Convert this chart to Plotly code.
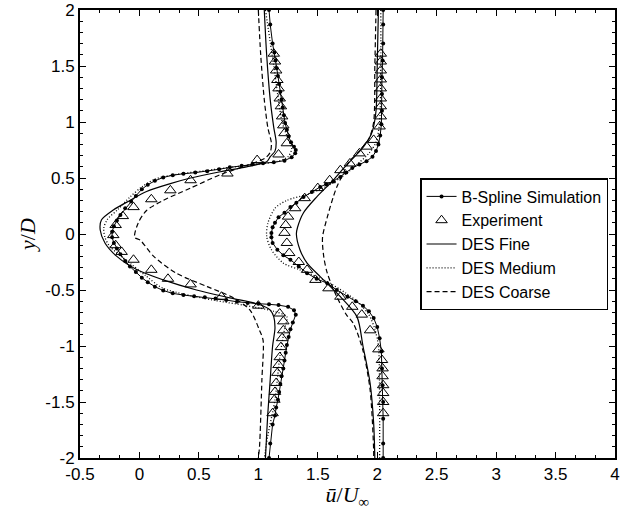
import plotly.graph_objects as go

# ---------------- data ----------------
# B-Spline Simulation, station 1
bs_x1 = [1.09, 1.10, 1.12, 1.135, 1.145, 1.155, 1.165, 1.175, 1.185, 1.195, 1.205, 1.215, 1.225, 1.24, 1.255,
         1.275, 1.30, 1.315, 1.31, 1.28, 1.22, 1.13, 1.04, 0.95, 0.86, 0.76, 0.67, 0.57, 0.47, 0.37, 0.28,
         0.20, 0.13, 0.07, 0.02, -0.03, -0.07, -0.12, -0.16, -0.19, -0.215, -0.23, -0.23, -0.215, -0.19,
         -0.16, -0.12, -0.08, -0.03, 0.02, 0.07, 0.13, 0.20, 0.28, 0.37, 0.46, 0.55, 0.64, 0.73, 0.82, 0.91,
         1.00, 1.09, 1.17, 1.25, 1.30, 1.315, 1.29, 1.27, 1.255, 1.24, 1.23, 1.22, 1.21, 1.195, 1.185, 1.175,
         1.165, 1.15, 1.14, 1.12, 1.10, 1.09]
bs_y1 = [2.0, 1.87, 1.70, 1.62, 1.55, 1.48, 1.41, 1.34, 1.27, 1.20, 1.13, 1.06, 0.99, 0.93, 0.87,
         0.82, 0.78, 0.75, 0.72, 0.685, 0.655, 0.64, 0.632, 0.622, 0.61, 0.595, 0.578, 0.56, 0.548, 0.538, 0.525,
         0.505, 0.475, 0.44, 0.40, 0.34, 0.29, 0.23, 0.17, 0.12, 0.07, 0.02, -0.03, -0.08, -0.13,
         -0.18, -0.24, -0.29, -0.34, -0.39, -0.43, -0.47, -0.505, -0.53, -0.545, -0.555, -0.565, -0.575, -0.59, -0.605, -0.615,
         -0.622, -0.628, -0.635, -0.65, -0.68, -0.72, -0.79, -0.85, -0.92, -0.99, -1.06, -1.13, -1.20, -1.27, -1.34, -1.41,
         -1.48, -1.55, -1.62, -1.70, -1.87, -2.0]
# B-Spline Simulation, station 2
bs_x2 = [2.05, 2.05, 2.05, 2.045, 2.04, 2.04, 2.04, 2.035, 2.025, 2.01, 1.99, 1.96, 1.91, 1.85, 1.79, 1.74,
         1.69, 1.63, 1.57, 1.52, 1.45, 1.38, 1.32, 1.27, 1.22, 1.17, 1.14, 1.12, 1.11, 1.11, 1.12, 1.16, 1.21,
         1.27, 1.34, 1.41, 1.49, 1.58, 1.66, 1.75, 1.82, 1.88, 1.93, 1.97, 2.00, 2.02, 2.035, 2.04, 2.045,
         2.05, 2.05, 2.05, 2.05]
bs_y2 = [2.0, 1.87, 1.70, 1.55, 1.40, 1.25, 1.10, 0.98, 0.88, 0.80, 0.74, 0.69, 0.65, 0.62, 0.59, 0.55,
         0.51, 0.47, 0.445, 0.42, 0.375, 0.33, 0.28, 0.24, 0.19, 0.15, 0.10, 0.06, 0.01, -0.03, -0.08, -0.14, -0.19,
         -0.23, -0.29, -0.35, -0.40, -0.44, -0.50, -0.56, -0.60, -0.64, -0.69, -0.75, -0.83, -0.93, -1.05, -1.20, -1.35,
         -1.50, -1.65, -1.87, -2.0]

# Experiment, station 1
exp_x1 = [1.13, 1.14, 1.15, 1.16, 1.17, 1.18, 1.19, 1.20, 1.21, 1.22, 1.24, 1.17, 0.99, 0.74, 0.43, 0.26,
          0.10, -0.05, -0.14, -0.20, -0.22, -0.20, -0.15, -0.05, 0.10, 0.24, 0.43, 0.69, 1.00, 1.18, 1.21,
          1.21, 1.20, 1.19, 1.18, 1.17, 1.16, 1.15, 1.14, 1.135, 1.12]
exp_y1 = [1.61, 1.54, 1.46, 1.375, 1.30, 1.21, 1.14, 1.05, 0.97, 0.90, 0.81, 0.71, 0.66, 0.54, 0.48, 0.39,
          0.31, 0.24, 0.16, 0.08, -0.01, -0.10, -0.16, -0.23, -0.32, -0.40, -0.45, -0.56, -0.64, -0.71, -0.78,
          -0.86, -0.93, -1.01, -1.10, -1.17, -1.24, -1.33, -1.41, -1.48, -1.60]
# Experiment, station 2
exp_x2 = [2.03, 2.03, 2.03, 2.03, 2.03, 2.03, 2.03, 2.03, 2.02, 1.97, 1.91, 1.85, 1.77, 1.69, 1.60, 1.50,
          1.39, 1.31, 1.25, 1.23, 1.22, 1.24, 1.26, 1.34, 1.41, 1.48, 1.59, 1.69, 1.79, 1.87, 1.94, 2.01,
          2.04, 2.045, 2.045, 2.05, 2.05, 2.05, 2.05]
exp_y2 = [1.61, 1.54, 1.46, 1.38, 1.30, 1.21, 1.14, 1.05, 0.96, 0.84, 0.78, 0.72, 0.63, 0.57, 0.48, 0.41,
          0.32, 0.23, 0.155, 0.08, 0.01, -0.08, -0.17, -0.25, -0.32, -0.41, -0.485, -0.56, -0.65, -0.72, -0.86, -1.03,
          -1.125, -1.20, -1.27, -1.35, -1.42, -1.50, -1.60]

# DES Fine
fine_x1 = [1.05, 1.07, 1.10, 1.13, 1.15, 1.14, 1.10, 1.07, 0.90, 0.68, 0.43, 0.26, 0.06, -0.08, -0.22, -0.32,
           -0.33, -0.29, -0.19, -0.02, 0.20, 0.48, 0.76, 1.01, 1.10, 1.13, 1.14, 1.12, 1.10, 1.08, 1.06]
fine_y1 = [2.0, 1.6, 1.2, 0.95, 0.82, 0.74, 0.69, 0.645, 0.60, 0.556, 0.50, 0.45, 0.38, 0.30, 0.214, 0.125,
           0.036, -0.08, -0.20, -0.32, -0.41, -0.50, -0.57, -0.63, -0.68, -0.74, -0.84, -1.0, -1.3, -1.6, -2.0]
fine_x2 = [2.01, 2.00, 1.99, 1.96, 1.93, 1.87, 1.80, 1.72, 1.63, 1.49, 1.38, 1.33, 1.32, 1.35, 1.41, 1.52,
           1.69, 1.83, 1.88, 1.94, 1.97, 1.98]
fine_y2 = [2.0, 1.5, 1.1, 0.92, 0.85, 0.76, 0.68, 0.59, 0.48, 0.33, 0.19, 0.06, 0.0, -0.14, -0.26, -0.38,
           -0.56, -0.74, -1.0, -1.33, -1.69, -2.0]

# DES Medium
med_x1 = [1.06, 1.13, 1.20, 1.25, 1.28, 1.25, 1.15, 1.00, 0.80, 0.55, 0.30, 0.13, 0.02, -0.08, -0.18, -0.27,
          -0.30, -0.29, -0.25, -0.08, 0.05, 0.20, 0.62, 0.90, 1.13, 1.24, 1.22, 1.18, 1.14, 1.08, 1.05]
med_y1 = [2.0, 1.5, 1.0, 0.85, 0.76, 0.69, 0.645, 0.625, 0.60, 0.565, 0.53, 0.49, 0.42, 0.33, 0.22, 0.13,
          0.05, -0.03, -0.11, -0.26, -0.37, -0.485, -0.59, -0.64, -0.69, -0.74, -0.85, -1.1, -1.48, -1.8, -2.0]
med_x2 = [2.03, 2.03, 2.02, 1.99, 1.93, 1.84, 1.74, 1.60, 1.43, 1.24, 1.14, 1.08, 1.07, 1.11, 1.21, 1.35,
          1.55, 1.74, 1.85, 1.93, 1.98, 2.01, 2.02, 2.02]
med_y2 = [2.0, 1.5, 1.0, 0.82, 0.72, 0.63, 0.54, 0.44, 0.36, 0.30, 0.23, 0.095, -0.02, -0.14, -0.26, -0.32,
          -0.41, -0.53, -0.62, -0.72, -0.85, -1.0, -1.5, -2.0]

# DES Coarse
coarse_x1 = [1.00, 1.02, 1.05, 1.08, 1.11, 1.10, 1.06, 0.87, 0.68, 0.43, 0.20, 0.06, -0.01, -0.04, 0.005,
             0.12, 0.31, 0.57, 0.79, 0.93, 1.01, 1.04, 1.03, 1.01, 1.00]
coarse_y1 = [2.0, 1.6, 1.2, 0.95, 0.81, 0.73, 0.68, 0.60, 0.53, 0.41, 0.30, 0.21, 0.10, -0.03, -0.054,
             -0.20, -0.35, -0.47, -0.57, -0.68, -0.86, -0.95, -1.3, -1.9, -2.0]
coarse_x2 = [1.99, 1.98, 1.97, 1.93, 1.85, 1.76, 1.71, 1.66, 1.63, 1.58, 1.54, 1.55, 1.58, 1.66, 1.74, 1.80,
             1.88, 1.94, 1.97, 1.97]
coarse_y2 = [2.0, 1.5, 1.0, 0.85, 0.74, 0.64, 0.53, 0.42, 0.33, 0.15, -0.03, -0.20, -0.35, -0.56, -0.72, -0.80,
             -1.04, -1.39, -1.93, -2.0]

x_ticks = [-0.5, 0, 0.5, 1, 1.5, 2, 2.5, 3, 3.5, 4]
y_ticks = [-2, -1.5, -1, -0.5, 0, 0.5, 1, 1.5, 2]

# ---------------- figure ----------------
fig = go.Figure()
BLK = "black"

def add(x, y, name, show, **kw):
    fig.add_trace(go.Scatter(x=x, y=y, name=name, legendgroup=name, showlegend=show, **kw))

bs_style = dict(mode="lines+markers", line=dict(color=BLK, width=1),
                marker=dict(symbol="circle", size=4, color=BLK))
exp_style = dict(mode="markers",
                 marker=dict(symbol="triangle-up-open", size=10, color=BLK, line=dict(width=1, color=BLK)))
fine_style = dict(mode="lines", line=dict(color=BLK, width=1.2, shape="spline", smoothing=0.8))
med_style = dict(mode="lines", line=dict(color=BLK, width=1.3, dash="1px,2px", shape="spline", smoothing=0.8))
coarse_style = dict(mode="lines", line=dict(color=BLK, width=1.2, dash="5px,3px", shape="spline", smoothing=0.8))

add(bs_x1, bs_y1, "B-Spline Simulation", True, **bs_style)
add(bs_x2, bs_y2, "B-Spline Simulation", False, **bs_style)
add(exp_x1, exp_y1, "Experiment", True, **exp_style)
add(exp_x2, exp_y2, "Experiment", False, **exp_style)
add(fine_x1, fine_y1, "DES Fine", True, **fine_style)
add(fine_x2, fine_y2, "DES Fine", False, **fine_style)
add(med_x1, med_y1, "DES Medium", True, **med_style)
add(med_x2, med_y2, "DES Medium", False, **med_style)
add(coarse_x1, coarse_y1, "DES Coarse", True, **coarse_style)
add(coarse_x2, coarse_y2, "DES Coarse", False, **coarse_style)

tickfont = dict(family="Liberation Sans, Arial, sans-serif", size=17, color=BLK)
axis_common = dict(showline=True, linewidth=2, linecolor=BLK, mirror="ticks", showgrid=False,
                   zeroline=False, ticks="inside", ticklen=6, tickwidth=1, tickcolor=BLK,
                   tickfont=tickfont, automargin=False)

fig.update_xaxes(range=[-0.5, 4], tickvals=x_ticks, ticktext=[f"{v:g}" for v in x_ticks],
                 minor=dict(dtick=0.5 / 3, tick0=-0.5, ticks="inside", ticklen=3, tickwidth=1, tickcolor=BLK),
                 title=dict(text="<i>ū</i>/<i>U</i><sub>∞</sub>",
                            font=dict(family="Liberation Serif, serif", size=22, color=BLK), standoff=0),
                 **axis_common)
fig.update_yaxes(range=[-2, 2], tickvals=y_ticks, ticktext=[f"{v:g}" for v in y_ticks],
                 minor=dict(dtick=0.1, tick0=-2, ticks="inside", ticklen=3, tickwidth=1, tickcolor=BLK),
                 title=dict(text="<i>y</i>/<i>D</i>",
                            font=dict(family="Liberation Serif, serif", size=22, color=BLK), standoff=4),
                 **axis_common)

fig.update_layout(
    template="none",
    width=643, height=510,
    margin=dict(l=80, r=28, t=10, b=52, pad=0),
    paper_bgcolor="white", plot_bgcolor="white",
    legend=dict(x=0.987, xanchor="right", y=0.625, yanchor="top",
                bgcolor="white", bordercolor=BLK, borderwidth=1.5,
                font=dict(family="Liberation Sans, Arial, sans-serif", size=16, color=BLK),
                tracegroupgap=0, itemwidth=30),
)

fig.write_html("out.html")
